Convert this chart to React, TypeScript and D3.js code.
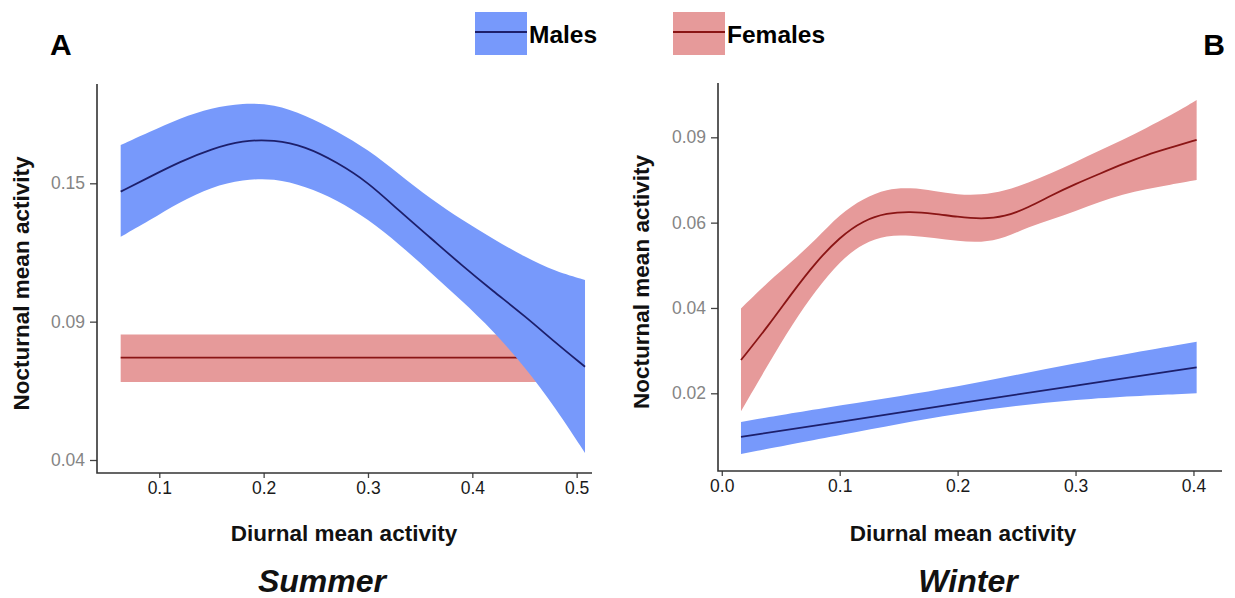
import { useEffect, useRef } from 'react'
import * as d3 from 'd3'

// Summer (panel A) — fitted curve with confidence band
const summerX = [0.063, 0.09, 0.12, 0.15, 0.18, 0.21, 0.24, 0.27, 0.3, 0.33, 0.36, 0.39, 0.42, 0.45, 0.48, 0.508]
const summerMalesFit = [0.1464, 0.1526, 0.1594, 0.1649, 0.1686, 0.1689, 0.166, 0.1592, 0.1505, 0.138, 0.1263, 0.1144, 0.1032, 0.0926, 0.0823, 0.0737]
const summerMalesUpper = [0.1666, 0.1721, 0.1783, 0.1827, 0.1849, 0.1843, 0.1796, 0.1727, 0.1646, 0.154, 0.1432, 0.1341, 0.1259, 0.1181, 0.1117, 0.1081]
const summerMalesLower = [0.1268, 0.1337, 0.142, 0.1484, 0.1516, 0.1522, 0.1486, 0.1429, 0.1345, 0.1236, 0.1114, 0.099, 0.0867, 0.0738, 0.0587, 0.0425]
const summerFemalesX = [0.063, 0.508]
const summerFemalesFit = [0.077, 0.077]
const summerFemalesUpper = [0.0854, 0.0854]
const summerFemalesLower = [0.0682, 0.0682]

// Winter (panel B)
const winterX = [0.0163, 0.04, 0.06, 0.08, 0.1, 0.12, 0.14, 0.16, 0.18, 0.2, 0.22, 0.24, 0.26, 0.28, 0.3, 0.32, 0.34, 0.36, 0.38, 0.4027]
const winterFemalesFit = [0.0278, 0.036, 0.0437, 0.0508, 0.0566, 0.0608, 0.0634, 0.0639, 0.0632, 0.062, 0.0613, 0.062, 0.0653, 0.0697, 0.0736, 0.0771, 0.0806, 0.0838, 0.0863, 0.0891]
const winterFemalesUpper = [0.0399, 0.0463, 0.051, 0.0561, 0.063, 0.0685, 0.0719, 0.0723, 0.0712, 0.0698, 0.0697, 0.0711, 0.0741, 0.0774, 0.0813, 0.0853, 0.0891, 0.0933, 0.0975, 0.1031]
const winterFemalesLower = [0.0158, 0.0271, 0.0363, 0.0442, 0.051, 0.0552, 0.0571, 0.057, 0.0564, 0.0557, 0.0553, 0.0564, 0.059, 0.0612, 0.0641, 0.0672, 0.0699, 0.0718, 0.0733, 0.075]
const winterMalesX = [0.0163, 0.1, 0.2, 0.3, 0.4027]
const winterMalesFit = [0.0098, 0.0133, 0.0176, 0.0218, 0.0261]
const winterMalesUpper = [0.0133, 0.0172, 0.0214, 0.0272, 0.0321]
const winterMalesLower = [0.0058, 0.0102, 0.0155, 0.0188, 0.02]

// tick labels
const summerTicksX = [0.1, 0.2, 0.3, 0.4, 0.5]
const summerTicksY = [0.04, 0.09, 0.15]
const winterTicksX = [0, 0.1, 0.2, 0.3, 0.4]
const winterTicksY = [0.02, 0.04, 0.06, 0.09]

const legendLabels = ['Males', 'Females']

const FONT = '"Liberation Sans", Arial, Helvetica, sans-serif'
const MALE_FILL = '#7799fb'
const MALE_LINE = '#1d1f6b'
const FEMALE_FILL = '#e69a9a'
const FEMALE_LINE = '#8a1515'

const toRows = (xs, fit, up, lo) => xs.map((x, i) => ({ x, fit: fit[i], up: up[i], lo: lo[i] }))

export default function App() {
  const svgRef = useRef(null)

  useEffect(() => {
    const svg = d3.select(svgRef.current)
    svg.selectAll('*').remove()

    const panels = [
      {
        label: 'A', labelX: 50, labelRight: false, season: 'Summer', seasonX: 322,
        left: 97, right: 592, top: 84, bottom: 473,
        xDomain: [0.0403, 0.5147], xTicks: summerTicksX,
        yTicks: summerTicksY, yTickBottom: 460, yTickStep: 138.35,
        yTitleX: 29, xTitleX: 344,
        series: [
          { rows: toRows(summerFemalesX, summerFemalesFit, summerFemalesUpper, summerFemalesLower), fill: FEMALE_FILL, stroke: FEMALE_LINE },
          { rows: toRows(summerX, summerMalesFit, summerMalesUpper, summerMalesLower), fill: MALE_FILL, stroke: MALE_LINE },
        ],
      },
      {
        label: 'B', labelX: 1225, labelRight: true, season: 'Winter', seasonX: 968,
        left: 718, right: 1222, top: 83, bottom: 471,
        xDomain: [-0.0032, 0.4242], xTicks: winterTicksX,
        yTicks: winterTicksY, yTickBottom: 393.3, yTickStep: 85.33,
        yTitleX: 649, xTitleX: 963,
        series: [
          { rows: toRows(winterX, winterFemalesFit, winterFemalesUpper, winterFemalesLower), fill: FEMALE_FILL, stroke: FEMALE_LINE },
          { rows: toRows(winterMalesX, winterMalesFit, winterMalesUpper, winterMalesLower), fill: MALE_FILL, stroke: MALE_LINE },
        ],
      },
    ]

    panels.forEach(p => {
      const x = d3.scaleLinear().domain(p.xDomain).range([p.left, p.right])
      // ticks sit evenly spaced on a transformed axis
      const y = d3.scaleLinear()
        .domain(p.yTicks)
        .range(p.yTicks.map((_, i) => p.yTickBottom - i * p.yTickStep))

      const g = svg.append('g')

      p.series.forEach(s => {
        const area = d3.area()
          .x(d => x(d.x))
          .y0(d => y(d.lo))
          .y1(d => y(d.up))
          .curve(d3.curveBasis)
        const line = d3.line()
          .x(d => x(d.x))
          .y(d => y(d.fit))
          .curve(d3.curveBasis)
        g.append('path').attr('d', area(s.rows)).attr('fill', s.fill)
        g.append('path').attr('d', line(s.rows)).attr('fill', 'none')
          .attr('stroke', s.stroke).attr('stroke-width', 1.8)
      })

      // y axis
      const yAxis = g.append('g')
        .attr('transform', `translate(${p.left},0)`)
        .call(d3.axisLeft(y).tickValues(p.yTicks).tickFormat(d3.format('.2f')).tickSize(7).tickSizeOuter(0).tickPadding(5))
      yAxis.select('.domain').remove()
      yAxis.selectAll('line').attr('stroke', '#444').attr('stroke-width', 1.3)
      yAxis.selectAll('text')
        .attr('fill', '#858585')
        .attr('font-size', '17.5px')
        .attr('font-family', FONT)

      // x axis
      const xAxis = g.append('g')
        .attr('transform', `translate(0,${p.bottom})`)
        .call(d3.axisBottom(x).tickValues(p.xTicks).tickFormat(d3.format('.1f')).tickSize(5).tickSizeOuter(0).tickPadding(4))
      xAxis.select('.domain').remove()
      xAxis.selectAll('line').attr('stroke', '#444').attr('stroke-width', 1.3)
      xAxis.selectAll('text')
        .attr('fill', '#1a1a1a')
        .attr('font-size', '17.5px')
        .attr('font-family', FONT)

      // axis lines
      g.append('path')
        .attr('d', `M${p.left},${p.top}V${p.bottom}H${p.right}`)
        .attr('fill', 'none')
        .attr('stroke', '#333')
        .attr('stroke-width', 1.6)

      // titles
      g.append('text')
        .attr('transform', `translate(${p.yTitleX},${(p.top + p.bottom) / 2 + 5}) rotate(-90)`)
        .attr('text-anchor', 'middle')
        .attr('font-family', FONT)
        .attr('font-weight', 700)
        .attr('font-size', '22.5px')
        .attr('fill', '#111')
        .text('Nocturnal mean activity')

      g.append('text')
        .attr('x', p.xTitleX)
        .attr('y', 541)
        .attr('text-anchor', 'middle')
        .attr('font-family', FONT)
        .attr('font-weight', 700)
        .attr('font-size', '22.5px')
        .attr('fill', '#111')
        .text('Diurnal mean activity')

      g.append('text')
        .attr('x', p.seasonX)
        .attr('y', 592)
        .attr('text-anchor', 'middle')
        .attr('font-family', FONT)
        .attr('font-weight', 700)
        .attr('font-style', 'italic')
        .attr('font-size', '32px')
        .attr('fill', '#111')
        .text(p.season)

      g.append('text')
        .attr('x', p.labelX)
        .attr('y', 55)
        .attr('text-anchor', p.labelRight ? 'end' : 'start')
        .attr('font-family', FONT)
        .attr('font-weight', 700)
        .attr('font-size', '30px')
        .attr('fill', '#000')
        .text(p.label)
    })

    // legend
    const legend = svg.append('g')
    const keys = [
      { name: legendLabels[0], x: 475, fill: MALE_FILL, stroke: MALE_LINE },
      { name: legendLabels[1], x: 673, fill: FEMALE_FILL, stroke: FEMALE_LINE },
    ]
    keys.forEach(k => {
      legend.append('rect')
        .attr('x', k.x).attr('y', 12).attr('width', 52).attr('height', 43)
        .attr('fill', k.fill)
      legend.append('line')
        .attr('x1', k.x).attr('x2', k.x + 52).attr('y1', 32).attr('y2', 32)
        .attr('stroke', k.stroke).attr('stroke-width', 2)
      legend.append('text')
        .attr('x', k.x + 54).attr('y', 43)
        .attr('font-family', FONT)
        .attr('font-weight', 700)
        .attr('font-size', '24.5px')
        .attr('fill', '#000')
        .text(k.name)
    })
  }, [])

  return (
    <svg
      ref={svgRef}
      width={1235}
      height={598}
      style={{ position: 'absolute', left: 0, top: 0, background: '#fff' }}
    />
  )
}
